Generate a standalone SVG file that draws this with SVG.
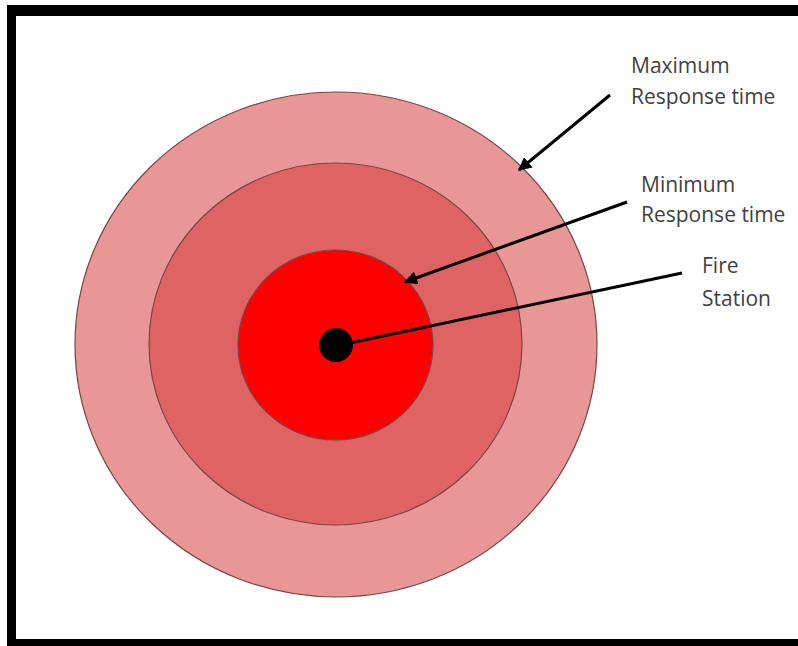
<svg xmlns="http://www.w3.org/2000/svg" width="798" height="646" viewBox="0 0 798 646">
<style>
.ring{stroke:#7a4545;stroke-width:1.2}
.lbl{font-family:"Open Sans","Liberation Sans",sans-serif;font-size:21px;fill:#3f3f3f}
.conn{stroke:#000;stroke-width:3;fill:none}
</style>
<defs>
<marker id="ah" viewBox="0 0 10 10" refX="9" refY="5" markerWidth="4.5" markerHeight="4.5" orient="auto" markerUnits="strokeWidth">
<path d="M0,0 L10,5 L0,10 z" fill="#000"/>
</marker>
</defs>
<rect x="0" y="0" width="798" height="646" fill="#fff"/>
<g id="frame">
<rect x="7" y="5" width="791" height="11" fill="#000"/>
<rect x="7" y="5" width="9" height="641" fill="#000"/>
<rect x="7" y="639" width="791" height="7" fill="#000"/>
</g>
<g id="max-zone"><ellipse class="ring" cx="336" cy="344.5" rx="261" ry="252.5" fill="#e89696"/></g>
<g id="min-zone"><ellipse class="ring" cx="335.5" cy="344" rx="186.5" ry="181" fill="#e06363"/></g>
<g id="inner-zone"><ellipse class="ring" cx="335.5" cy="345" rx="97.5" ry="95" fill="#ff0000"/></g>
<g id="fire-station"><circle cx="336" cy="345" r="17" fill="#000"/></g>
<g id="connectors">
<line class="conn" x1="610" y1="95" x2="519" y2="170" marker-end="url(#ah)"/>
<line class="conn" x1="627" y1="202" x2="405" y2="282" marker-end="url(#ah)"/>
<line class="conn" x1="682" y1="273" x2="350" y2="343"/>
</g>
<g id="label-max">
<text class="lbl" x="631" y="73">Maximum</text>
<text class="lbl" x="631" y="104">Response time</text>
</g>
<g id="label-min">
<text class="lbl" x="641" y="192">Minimum</text>
<text class="lbl" x="641" y="222">Response time</text>
</g>
<g id="label-fire">
<text class="lbl" x="702" y="273">Fire</text>
<text class="lbl" x="702" y="306">Station</text>
</g>
</svg>
